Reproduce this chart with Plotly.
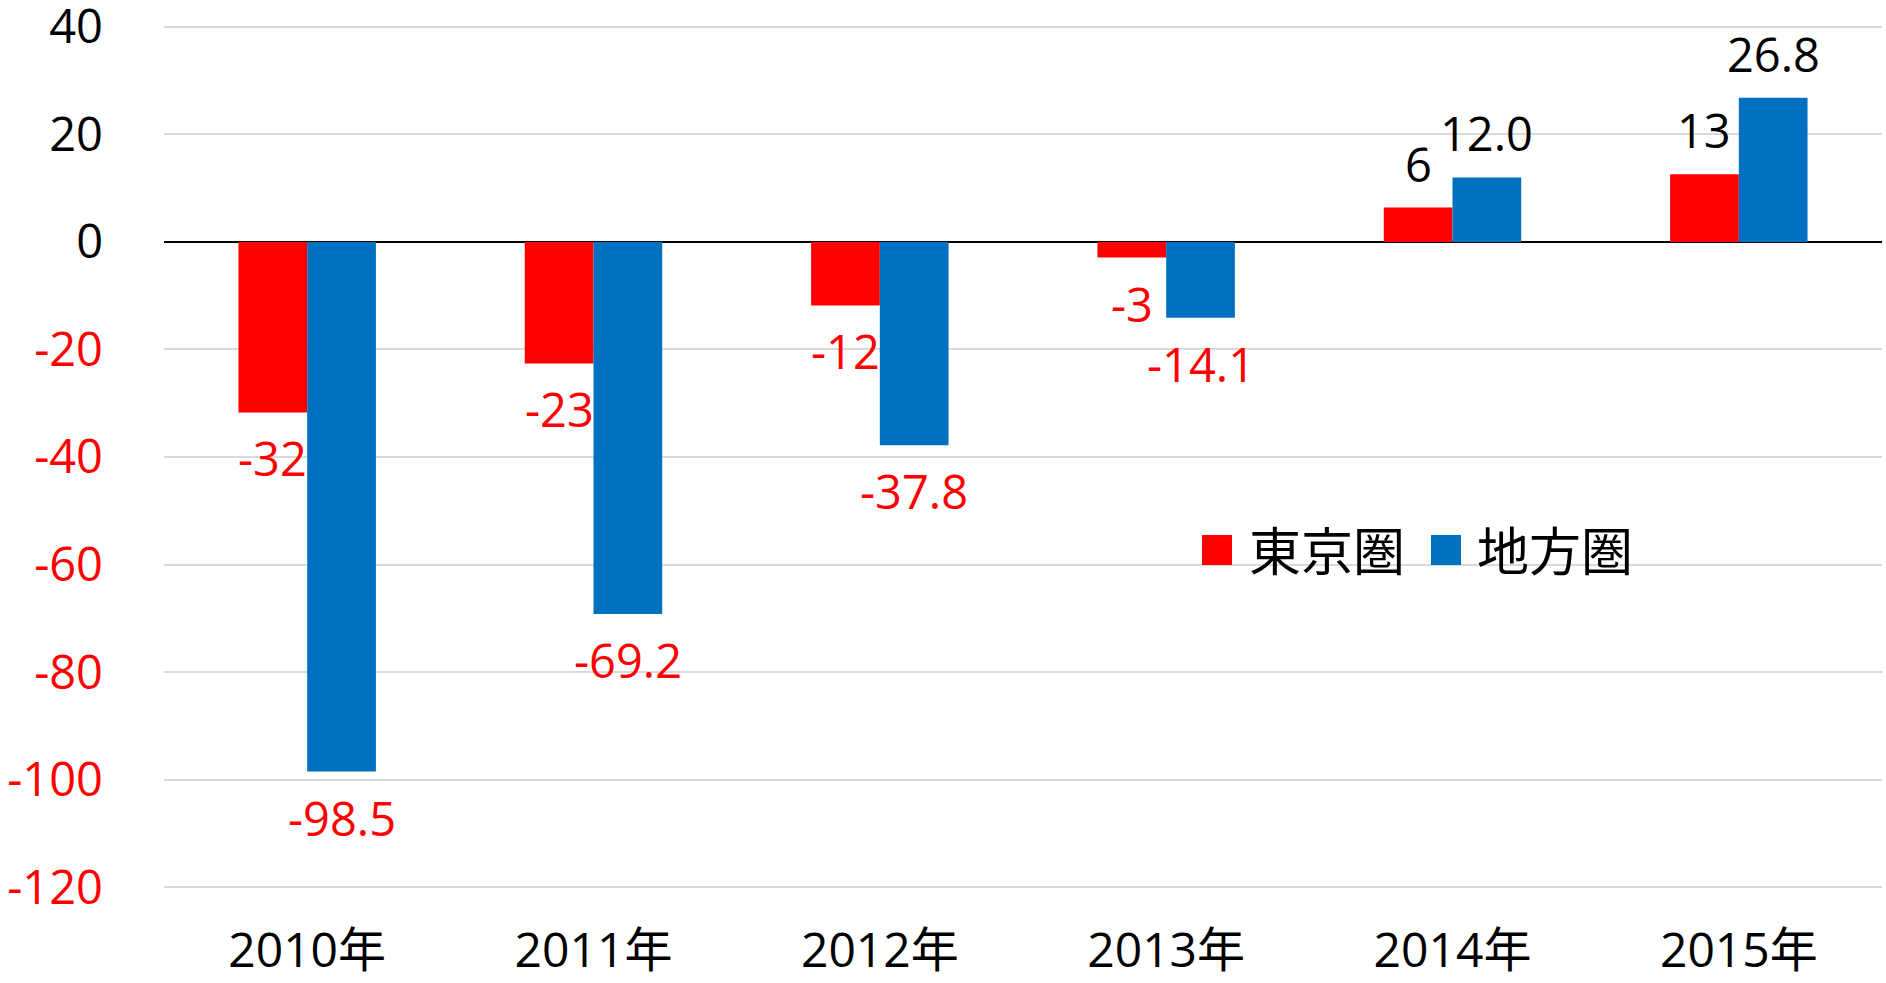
import plotly.graph_objects as go

# Year categories and the two series (change, in thousands)
years = ["2010年", "2011年", "2012年", "2013年", "2014年", "2015年"]
tokyo = [-31.7, -22.6, -11.8, -2.9, 6.4, 12.6]
regional = [-98.5, -69.2, -37.8, -14.1, 12.0, 26.8]
series_names = ["東京圏", "地方圏"]
y_ticks = [40, 20, 0, -20, -40, -60, -80, -100, -120]

RED = "#FF0000"
BLUE = "#0070C0"
FONT = "Open Sans, Noto Sans CJK JP, sans-serif"
FS = 47

W, H = 1886, 983
M_L, M_R, M_T, M_B = 164, 4, 25, 94
BARGAP = 0.52
plot_w = W - M_L - M_R
plot_h = H - M_T - M_B
cat_px = plot_w / len(years)
bar_off = cat_px * (1 - BARGAP) / 4  # half a bar width, in px

fig = go.Figure()
fig.add_trace(go.Bar(x=years, y=tokyo, name=series_names[0], marker_color=RED,
                     marker_line_width=0))
fig.add_trace(go.Bar(x=years, y=regional, name=series_names[1], marker_color=BLUE,
                     marker_line_width=0))

# Value labels: red below negative bars, black above positive ones
annotations = []
for vals, fmt, shift in ((tokyo, "{:.0f}", -bar_off), (regional, "{:.1f}", bar_off)):
    for yr, v in zip(years, vals):
        neg = v < 0
        annotations.append(dict(
            x=yr, y=v, xref="x", yref="y", text=fmt.format(v),
            showarrow=False, xshift=shift, yshift=-46 if neg else 44,
            yanchor="middle", xanchor="center",
            font=dict(family=FONT, size=FS, color=RED if neg else "black"),
        ))

# Legend drawn as swatches and labels inside the plot area
def px_x(p):
    return (p - M_L) / plot_w

def px_y(p):
    return (H - M_B - p) / plot_h

shapes = []
for (x0, color, tx, name) in ((1202, RED, 1247, series_names[0]),
                              (1431, BLUE, 1475, series_names[1])):
    shapes.append(dict(type="rect", xref="paper", yref="paper",
                       x0=px_x(x0), x1=px_x(x0 + 30), y0=px_y(565), y1=px_y(535),
                       fillcolor=color, line_width=0))
    annotations.append(dict(x=px_x(tx), y=px_y(550), xref="paper", yref="paper",
                            text=name, showarrow=False, xanchor="left", yanchor="middle",
                            font=dict(family=FONT, size=52, color="black")))

tick_text = [f'<span style="color:{RED}">{t}</span>' if t < 0 else str(t) for t in y_ticks]

fig.update_layout(
    width=W, height=H,
    margin=dict(l=M_L, r=M_R, t=M_T, b=M_B, pad=0),
    paper_bgcolor="white", plot_bgcolor="white",
    barmode="group", bargap=BARGAP, bargroupgap=0,
    showlegend=False,
    font=dict(family=FONT, size=FS, color="black"),
    annotations=annotations, shapes=shapes,
    xaxis=dict(showgrid=False, showline=False,
               automargin=False, ticks="", ticklabelstandoff=29,
               tickfont=dict(size=48, color="black")),
    # range padded slightly so the gridlines at 40 and -120 are kept
    yaxis=dict(range=[-120.35, 40.35], tickvals=y_ticks, ticktext=tick_text,
               showgrid=True, gridcolor="#D9D9D9", gridwidth=1.5,
               zeroline=True, zerolinecolor="black", zerolinewidth=1.5,
               showline=False, automargin=False, ticks="", ticklabelstandoff=60,
               ticklabeloverflow="allow",
               tickfont=dict(size=FS, color="black")),
)

fig.write_html("out.html")
